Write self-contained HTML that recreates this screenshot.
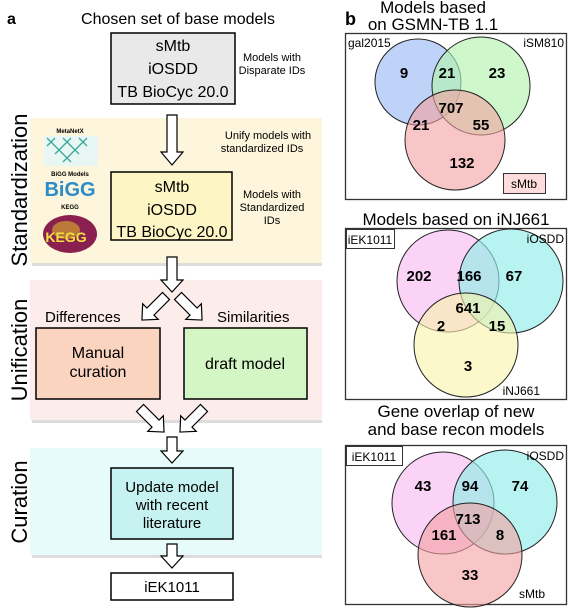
<!DOCTYPE html>
<html><head><meta charset="utf-8"><style>
html,body{margin:0;padding:0;background:#fff;}
svg{display:block;font-family:"Liberation Sans",Arial,sans-serif;}
</style></head><body>
<svg width="568" height="612" viewBox="0 0 568 612" xmlns="http://www.w3.org/2000/svg">
<defs>
<polygon id="ad" points="-5,0 5,0 5,-12 11,-12 0,0 -11,-12 -5,-12" />
</defs>
<!-- bands -->
<rect x="30" y="118" width="292" height="145" fill="#fdf5dc"/>
<rect x="32" y="263" width="290" height="3" fill="#ddd"/>
<rect x="30" y="280" width="292" height="140" fill="#fcecea"/>
<rect x="32" y="420" width="290" height="3" fill="#ddd"/>
<rect x="30" y="448" width="292" height="107" fill="#e6fbfa"/>
<rect x="32" y="555" width="290" height="3" fill="#ddd"/>

<text x="7" y="24" font-size="16" font-weight="bold">a</text>
<text x="178" y="24" font-size="16" text-anchor="middle">Chosen set of base models</text>
<rect x="111" y="33" width="124" height="71" fill="#e9e9e9" stroke="#000" stroke-width="1.5"/>
<g font-size="16" text-anchor="middle">
<text x="173" y="51">sMtb</text><text x="173" y="74">iOSDD</text><text x="173" y="97">TB BioCyc 20.0</text>
</g>
<g font-size="11" text-anchor="middle">
<text x="272" y="61">Models with</text><text x="272" y="74">Disparate IDs</text>
<text x="268" y="139">Unify models with</text><text x="262" y="152">standardized IDs</text>
<text x="272" y="198">Models with</text><text x="272" y="211">Standardized</text><text x="272" y="224">IDs</text>
</g>
<!-- arrow 1 -->
<polygon points="167,115 177,115 177,152 183,152 172,165 161,152 167,152" fill="#fff" stroke="#000" stroke-width="1.2"/>
<rect x="111" y="172" width="121" height="68" fill="#fdf5c4" stroke="#000" stroke-width="1.5"/>
<g font-size="16" text-anchor="middle">
<text x="172" y="192">sMtb</text><text x="172" y="215">iOSDD</text><text x="172" y="237">TB BioCyc 20.0</text>
</g>
<!-- logos -->
<text x="70" y="133" font-size="6" font-weight="bold" text-anchor="middle">MetaNetX</text>
<rect x="44" y="136" width="54" height="30" fill="#e8f6f4"/>
<g stroke="#3aa89a" stroke-width="1.3">
<path d="M47,138 l8,8 M55,138 l-8,8 M63,138 l8,8 M71,138 l-8,8 M79,138 l8,8 M87,138 l-8,8 M55,146 l8,8 M63,146 l-8,8 M71,146 l8,8 M79,146 l-8,8 M63,154 l8,8 M71,154 l-8,8"/>
</g>
<text x="70" y="176" font-size="6" font-weight="bold" text-anchor="middle">BiGG Models</text>
<text x="70" y="196" font-size="20" font-weight="bold" fill="#2a8cc8" text-anchor="middle">BiGG</text>
<text x="70" y="209" font-size="6" font-weight="bold" text-anchor="middle">KEGG</text>
<ellipse cx="70" cy="234" rx="27" ry="19" fill="#8a2050"/>
<ellipse cx="66" cy="230" rx="14" ry="9" fill="#d0a030" opacity="0.7"/>
<text x="66" y="242" font-size="14" font-weight="bold" fill="#f0e040" text-anchor="middle">KEGG</text>
<!-- rotated band labels -->
<text transform="translate(27,190) rotate(-90)" font-size="22" text-anchor="middle">Standardization</text>
<text transform="translate(27,350) rotate(-90)" font-size="22" text-anchor="middle">Unification</text>
<text transform="translate(27,502) rotate(-90)" font-size="22" text-anchor="middle">Curation</text>
<!-- arrow down to split -->
<polygon points="167,257 177,257 177,280 183,280 172,292 161,280 167,280" fill="#fff" stroke="#000" stroke-width="1.2"/>
<polygon transform="translate(166,296) rotate(45)" points="-5,0 5,0 5,22 11,22 0,34 -11,22 -5,22" fill="#fff" stroke="#000" stroke-width="1.2"/>
<polygon transform="translate(178,296) rotate(-45)" points="-5,0 5,0 5,22 11,22 0,34 -11,22 -5,22" fill="#fff" stroke="#000" stroke-width="1.2"/>
<text x="45" y="322" font-size="15">Differences</text>
<text x="217" y="322" font-size="15">Similarities</text>
<rect x="36" y="328" width="124" height="71" fill="#fbd4c0" stroke="#000" stroke-width="1.5"/>
<text x="98" y="358" font-size="16" text-anchor="middle">Manual</text>
<text x="98" y="377" font-size="16" text-anchor="middle">curation</text>
<rect x="184" y="328" width="123" height="71" fill="#d4f5c4" stroke="#000" stroke-width="1.5"/>
<text x="245" y="369" font-size="16" text-anchor="middle">draft model</text>
<!-- converging -->
<polygon transform="translate(140,408) rotate(-45)" points="-5,0 5,0 5,22 11,22 0,34 -11,22 -5,22" fill="#fff" stroke="#000" stroke-width="1.2"/>
<polygon transform="translate(204,408) rotate(45)" points="-5,0 5,0 5,22 11,22 0,34 -11,22 -5,22" fill="#fff" stroke="#000" stroke-width="1.2"/>
<polygon points="167,437 177,437 177,451 183,451 172,463 161,451 167,451" fill="#fff" stroke="#000" stroke-width="1.2"/>
<rect x="111" y="468" width="122" height="71" fill="#c6f3f1" stroke="#000" stroke-width="1.5"/>
<g font-size="15" text-anchor="middle">
<text x="172" y="492">Update model</text><text x="172" y="510">with recent</text><text x="172" y="528">literature</text>
</g>
<polygon points="167,544 177,544 177,556 183,556 172,568 161,556 167,556" fill="#fff" stroke="#000" stroke-width="1.2"/>
<rect x="111" y="573" width="122" height="27" fill="#fff" stroke="#000" stroke-width="1.5"/>
<text x="172" y="592" font-size="15" text-anchor="middle">iEK1011</text>

<!-- panel b -->
<text x="345" y="25" font-size="18" font-weight="bold">b</text>
<text x="433" y="13" font-size="17" text-anchor="middle">Models based</text>
<text x="433" y="30" font-size="17" text-anchor="middle">on GSMN-TB 1.1</text>
<rect x="345.5" y="33.5" width="221" height="166" fill="#fff" stroke="#333" stroke-width="1.3"/>
<g stroke="#222" stroke-width="1">
<circle cx="418" cy="82" r="43" fill="#a8c4f4" fill-opacity="0.75"/>
<circle cx="481" cy="86" r="49" fill="#b4f2b0" fill-opacity="0.65"/>
<circle cx="455" cy="140" r="50" fill="#f4a0a0" fill-opacity="0.6"/>
</g>
<g font-size="15" font-weight="bold" text-anchor="middle">
<text x="404" y="78">9</text><text x="447" y="78">21</text><text x="497" y="78">23</text>
<text x="451" y="113">707</text><text x="421" y="130">21</text><text x="481" y="130">55</text>
<text x="462" y="168">132</text>
</g>
<text x="348" y="47" font-size="12">gal2015</text>
<text x="564" y="47" font-size="12" text-anchor="end">iSM810</text>
<rect x="503.5" y="173.5" width="42" height="20" fill="#fcdcdc" stroke="#333"/>
<text x="524" y="188" font-size="12" text-anchor="middle">sMtb</text>

<text x="456" y="225" font-size="17" text-anchor="middle">Models based on iNJ661</text>
<rect x="345.5" y="228.5" width="221" height="171" fill="#fff" stroke="#333" stroke-width="1.3"/>
<g stroke="#222" stroke-width="1">
<circle cx="448" cy="281" r="51" fill="#f8c4f4" fill-opacity="0.75"/>
<circle cx="511" cy="281" r="52" fill="#90ece8" fill-opacity="0.65"/>
<circle cx="466" cy="345" r="52" fill="#f8f4a8" fill-opacity="0.6"/>
</g>
<g font-size="15" font-weight="bold" text-anchor="middle">
<text x="419" y="281">202</text><text x="469" y="281">166</text><text x="514" y="281">67</text>
<text x="468" y="313">641</text><text x="441" y="331">2</text><text x="497" y="331">15</text>
<text x="468" y="371">3</text>
</g>
<rect x="346.5" y="229.5" width="48" height="19" fill="#fff" stroke="#333"/>
<text x="370" y="244" font-size="12" text-anchor="middle">iEK1011</text>
<text x="564" y="243" font-size="12" text-anchor="end">iOSDD</text>
<text x="540" y="395" font-size="12" text-anchor="end">iNJ661</text>

<text x="456" y="417" font-size="17" text-anchor="middle">Gene overlap of new</text>
<text x="456" y="435" font-size="17" text-anchor="middle">and base recon models</text>
<rect x="345.5" y="445.5" width="221" height="159" fill="#fff" stroke="#333" stroke-width="1.3"/>
<g stroke="#222" stroke-width="1">
<circle cx="443" cy="503" r="51" fill="#f8c4f4" fill-opacity="0.75"/>
<circle cx="505" cy="502" r="52" fill="#90ece8" fill-opacity="0.65"/>
<circle cx="470" cy="555" r="52" fill="#f4a0a0" fill-opacity="0.6"/>
</g>
<g font-size="15" font-weight="bold" text-anchor="middle">
<text x="423" y="491">43</text><text x="470" y="491">94</text><text x="520" y="491">74</text>
<text x="468" y="524">713</text><text x="444" y="540">161</text><text x="500" y="540">8</text>
<text x="470" y="580">33</text>
</g>
<rect x="346.5" y="446.5" width="56" height="19" fill="#fff" stroke="#333"/>
<text x="374" y="461" font-size="12" text-anchor="middle">iEK1011</text>
<text x="564" y="460" font-size="12" text-anchor="end">iOSDD</text>
<text x="545" y="598" font-size="12" text-anchor="end">sMtb</text>
</svg>
</body></html>
